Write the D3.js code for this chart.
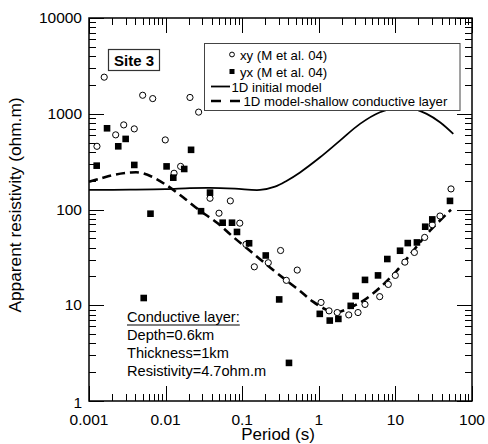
<!DOCTYPE html>
<html><head><meta charset="utf-8">
<script src="https://cdn.jsdelivr.net/npm/d3@7"></script>
<style>
html,body{margin:0;padding:0;background:#fff;}
svg{display:block;font-family:"Liberation Sans",Arial,Helvetica,sans-serif;}
</style></head>
<body>
<svg id="chart" width="488" height="444"></svg>
<script>
// ---- data ----
const xyPeriod = [0.00127,0.00158,0.00223,0.00284,0.0039,0.00502,0.00679,0.0099,0.0129,0.0157,0.0208,0.027,0.038,0.0498,0.07,0.093,0.112,0.144,0.219,0.317,0.377,0.523,1.07,1.36,1.74,2.46,3.25,4.01,6.24,8.08,9.97,13.3,17.7,24.1,30.3,38.2,53.2];
const xyRho    = [457,2410,602,765,695,1560,1440,533,239,282,1480,1040,131,91.5,123,72,43.2,25.2,27.8,37.3,18.2,23.3,10.7,8.74,8.39,7.93,8.39,10.2,12.3,16.5,20.5,28.2,35.6,51.1,69.3,85.5,164];
const yxPeriod = [0.00126,0.00172,0.00241,0.00301,0.0039,0.00518,0.00635,0.0103,0.0126,0.0175,0.0215,0.029,0.038,0.0556,0.0736,0.0855,0.123,0.203,0.304,0.408,1.03,1.39,1.8,2.61,3.03,4.01,5.93,7.84,11.5,14.5,19.1,24.5,30.3,51.6];
const yxRho    = [287,705,457,546,292,11.9,90.4,282,215,265,420,96,150,72.8,72.8,58.3,44.4,33.1,11.5,2.5,8.13,6.92,7.2,9.86,12.5,18.4,20.5,30.4,37.1,44.6,45.3,66.1,78.8,123];
const initPeriod = [0.001,0.00343,0.01,0.0208,0.038,0.0805,0.171,0.268,0.383,0.569,1.04,1.89,3.45,6.29,11.5,15.5,25.6,38.2,57.0];
const initRho    = [160,161,163,167,168,165,160,173,200,244,351,524,784,1037,1170,1153,997,815,616];
const shallowPeriod = [0.001,0.00139,0.00218,0.00343,0.00463,0.00664,0.01,0.0169,0.0281,0.0469,0.0759,0.126,0.231,0.383,0.569,0.84,1.27,1.73,2.55,3.78,6.29,10.4,17.1,28.3,53.2];
const shallowRho    = [195,210,231,243,243,220,182,134,97.2,72.8,51.9,37.1,24.8,18.0,14.1,10.9,8.95,8.43,9.46,11.1,15.3,22.9,37.1,60.0,99.5];
const xTickValues = [0.001,0.01,0.1,1,10,100];
const xTickLabels = ["0.001","0.01","0.1","1","10","100"];
const yTickValues = [1,10,100,1000,10000];
const yTickLabels = ["1","10","100","1000","10000"];
const legendLabels = ["xy (M et al. 04)","yx (M et al. 04)","1D initial model","1D model-shallow conductive layer"];
const noteLines = ["Conductive layer:","Depth=0.6km","Thickness=1km","Resistivity=4.7ohm.m"];
const siteLabel = "Site 3";

// ---- layout ----
const L = 89, R = 472, T = 18, B = 401;
const svg = d3.select("#chart");
const x = d3.scaleLog().domain([0.001,100]).range([L,R]);
const y = d3.scaleLog().domain([1,10000]).range([B,T]);

// minor tick values
const minorX = [], minorY = [];
for (let e=-3;e<2;e++) for (let k=2;k<=9;k++) minorX.push(k*Math.pow(10,e));
for (let e=0;e<4;e++) for (let k=2;k<=9;k++) minorY.push(k*Math.pow(10,e));

const MAJ = 15, MIN = 7;
const tg = svg.append("g").attr("stroke","#000").attr("stroke-width",1);
xTickValues.forEach(v=>{
  const px = Math.round(x(v))+0.5;
  tg.append("line").attr("x1",px).attr("x2",px).attr("y1",B).attr("y2",B-MAJ);
  tg.append("line").attr("x1",px).attr("x2",px).attr("y1",T).attr("y2",T+MAJ);
});
minorX.forEach(v=>{
  const px = Math.round(x(v))+0.5;
  tg.append("line").attr("x1",px).attr("x2",px).attr("y1",B).attr("y2",B-MIN);
  tg.append("line").attr("x1",px).attr("x2",px).attr("y1",T).attr("y2",T+MIN);
});
yTickValues.forEach(v=>{
  const py = Math.round(y(v))+0.5;
  tg.append("line").attr("x1",L).attr("x2",L+MAJ).attr("y1",py).attr("y2",py);
  tg.append("line").attr("x1",R).attr("x2",R-MAJ).attr("y1",py).attr("y2",py);
});
minorY.forEach(v=>{
  const py = Math.round(y(v))+0.5;
  tg.append("line").attr("x1",L).attr("x2",L+MIN).attr("y1",py).attr("y2",py);
  tg.append("line").attr("x1",R).attr("x2",R-MIN).attr("y1",py).attr("y2",py);
});
svg.append("rect").attr("x",L).attr("y",T).attr("width",R-L).attr("height",B-T)
  .attr("fill","none").attr("stroke","#000").attr("stroke-width",1.5);

// tick labels
svg.append("g").selectAll("text").data(xTickValues).join("text")
  .attr("x",d=>x(d)).attr("y",B+24).attr("text-anchor","middle")
  .attr("font-size",15.5).text((d,i)=>xTickLabels[i]);
svg.append("g").selectAll("text").data(yTickValues).join("text")
  .attr("x",L-7).attr("y",d=>y(d)+(d===1?7:5)).attr("text-anchor","end")
  .attr("font-size",15.5).text((d,i)=>yTickLabels[i]);

// axis titles
svg.append("text").attr("x",278).attr("y",440).attr("text-anchor","middle")
  .attr("font-size",17).text("Period (s)");
svg.append("text").attr("transform","translate(21,205) rotate(-90)").attr("text-anchor","middle")
  .attr("font-size",17.3).text("Apparent resistivity (ohm.m)");

// curves
const line = d3.line().x(d=>x(d[0])).y(d=>y(d[1])).curve(d3.curveCatmullRom.alpha(0.5));
svg.append("path").datum(initPeriod.map((p,i)=>[p,initRho[i]]))
  .attr("d",line).attr("fill","none").attr("stroke","#000").attr("stroke-width",1.8);
svg.append("path").datum(shallowPeriod.map((p,i)=>[p,shallowRho[i]]))
  .attr("d",line).attr("fill","none").attr("stroke","#000").attr("stroke-width",2.6)
  .attr("stroke-dasharray","9,5");

// points
svg.append("g").selectAll("circle").data(xyPeriod.map((p,i)=>[p,xyRho[i]])).join("circle")
  .attr("cx",d=>x(d[0])).attr("cy",d=>y(d[1])).attr("r",3.1)
  .attr("fill","#fff").attr("stroke","#000").attr("stroke-width",1);
svg.append("g").selectAll("rect").data(yxPeriod.map((p,i)=>[p,yxRho[i]])).join("rect")
  .attr("x",d=>x(d[0])-3.3).attr("y",d=>y(d[1])-3.3).attr("width",6.6).attr("height",6.6)
  .attr("fill","#000");

// Site label
svg.append("rect").attr("x",108.5).attr("y",49.5).attr("width",51).attr("height",21)
  .attr("fill","#fff").attr("stroke","#333").attr("stroke-width",1.2);
svg.append("text").attr("x",134).attr("y",65.5).attr("text-anchor","middle")
  .attr("font-size",15).attr("font-weight","bold").text(siteLabel);

// legend
const lg = svg.append("g");
lg.append("rect").attr("x",204.5).attr("y",43.5).attr("width",255.5).attr("height",67)
  .attr("fill","#fff").attr("stroke","#444").attr("stroke-width",1);
const ly = [54.5,71.5,86.5,101];
lg.append("circle").attr("cx",232).attr("cy",ly[0]).attr("r",2.4).attr("fill","#fff").attr("stroke","#000").attr("stroke-width",1);
lg.append("rect").attr("x",229.5).attr("y",ly[1]-2.5).attr("width",5).attr("height",5).attr("fill","#000");
lg.append("line").attr("x1",211).attr("x2",230).attr("y1",ly[2]).attr("y2",ly[2]).attr("stroke","#000").attr("stroke-width",1.8);
lg.append("line").attr("x1",211).attr("x2",241).attr("y1",ly[3]).attr("y2",ly[3]).attr("stroke","#000").attr("stroke-width",2.4).attr("stroke-dasharray","10,9");
const lx = [240,240,231.5,243.5];
legendLabels.forEach((t,i)=>{
  lg.append("text").attr("x",lx[i]).attr("y",ly[i]+5).attr("font-size",13.2).text(t);
});

// note
const ng = svg.append("g");
const nys = [322,340,358,375.5];
noteLines.forEach((t,i)=>{
  const tx = ng.append("text").attr("x",127).attr("y",nys[i]).attr("font-size",14.6).text(t);
  if (i===0){
    const w = tx.node().getComputedTextLength();
    ng.append("line").attr("x1",127).attr("x2",127+w).attr("y1",nys[i]+3).attr("y2",nys[i]+3)
      .attr("stroke","#000").attr("stroke-width",1);
  }
});
</script>
</body></html>
